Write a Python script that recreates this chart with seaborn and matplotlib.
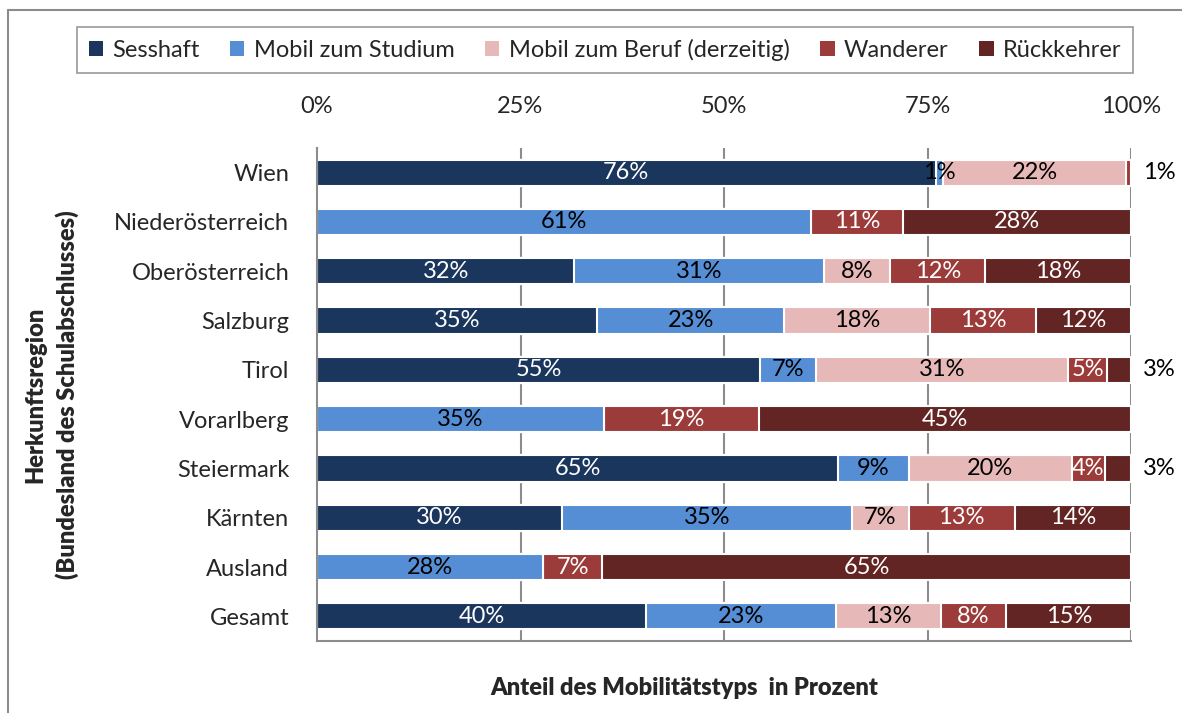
import numpy as np
import pandas as pd
import matplotlib.pyplot as plt
import seaborn as sns
from matplotlib.lines import Line2D
from matplotlib.patches import Patch

# Data (shares in percent)
regions = ["Wien", "Niederösterreich", "Oberösterreich", "Salzburg", "Tirol",
           "Vorarlberg", "Steiermark", "Kärnten", "Ausland", "Gesamt"]
series = ["Sesshaft", "Mobil zum Studium", "Mobil zum Beruf (derzeitig)",
          "Wanderer", "Rückkehrer"]

sesshaft = [76.0, 0, 31.6, 34.4, 54.4, 0, 64.0, 30.1, 0, 40.4]
studium = [0.9, 60.7, 30.7, 23.0, 6.9, 35.3, 8.7, 35.6, 27.8, 23.3]
beruf = [22.5, 0, 8.1, 17.9, 31.0, 0, 20.0, 7.0, 0, 12.9]
wanderer = [0.6, 11.3, 11.7, 13.0, 4.8, 19.0, 4.1, 13.0, 7.2, 8.1]
rueckkehrer = [0, 28.0, 17.9, 11.7, 2.9, 45.7, 3.2, 14.3, 65.0, 15.3]

# Labels as printed on the bars
sesshaft_lbl = ["76%", "", "32%", "35%", "55%", "", "65%", "30%", "", "40%"]
studium_lbl = ["1%", "61%", "31%", "23%", "7%", "35%", "9%", "35%", "28%", "23%"]
beruf_lbl = ["22%", "", "8%", "18%", "31%", "", "20%", "7%", "", "13%"]
wanderer_lbl = ["1%", "11%", "12%", "13%", "5%", "19%", "4%", "13%", "7%", "8%"]
rueck_lbl = ["", "28%", "18%", "12%", "3%", "45%", "3%", "14%", "65%", "15%"]

colors = ["#1B365D", "#558ED5", "#E6B9B8", "#9B3B3A", "#632523"]
text_colors = ["white", "black", "black", "white", "white"]

values = [sesshaft, studium, beruf, wanderer, rueckkehrer]
labels = [sesshaft_lbl, studium_lbl, beruf_lbl, wanderer_lbl, rueck_lbl]

FS = 17

sns.set_style("white")
plt.rcParams['font.family'] = ['Lato', 'DejaVu Sans']

fig = plt.figure(figsize=(11.82, 7.13), dpi=100)
ax = fig.add_axes([317 / 1182, 1 - 641 / 713, 814 / 1182, 493 / 713])

df = pd.DataFrame(dict(zip(series, values)), index=regions)
cum = df.cumsum(axis=1)

# Stacked bars: draw cumulative totals from the last series backwards
for i in range(len(series) - 1, -1, -1):
    sns.barplot(x=cum[series[i]].values, y=regions, orient="h", color=colors[i],
                width=0.53, edgecolor="white", linewidth=1.5, ax=ax, saturation=1)

# Segment labels
for i, s in enumerate(series):
    for j, r in enumerate(regions):
        lbl = labels[i][j]
        if not lbl:
            continue
        w = df.loc[r, s]
        end = cum.loc[r, s]
        if w < 3.5 and end > 99.5:
            ax.text(101.5, j, lbl, ha="left", va="center", fontsize=FS, color="black")
        else:
            ax.text(end - w / 2, j, lbl, ha="center", va="center", fontsize=FS,
                    color=text_colors[i])

ax.set_xlim(0, 100)
ax.set_ylim(9.5, -0.5)
ax.set_xticks([0, 25, 50, 75, 100])
ax.set_xticklabels(["0%", "25%", "50%", "75%", "100%"], fontsize=FS)
ax.xaxis.tick_top()
ax.tick_params(axis="x", length=0, pad=22)
for xv in [25, 50, 75, 100]:
    ax.axvline(xv, color="#8C8C8C", lw=1.5, zorder=0)

ax.set_yticks(range(len(regions)))
ax.set_yticklabels(regions, fontsize=FS)
ax.set_yticks(np.arange(-0.5, 10.5, 1), minor=True)
ax.tick_params(axis="y", which="major", length=0, pad=20)
ax.tick_params(axis="y", which="minor", length=7, width=1.5, color="#8C8C8C")

for side in ["top", "right"]:
    ax.spines[side].set_visible(False)
for side in ["left", "bottom"]:
    ax.spines[side].set_color("#8C8C8C")
    ax.spines[side].set_linewidth(1.5)

ax.set_ylabel("Herkunftsregion\n(Bundesland des Schulabschlusses)", fontsize=FS,
              fontweight="heavy", linespacing=1.45)
ax.yaxis.set_label_coords(-0.292, 0.5)
ax.set_xlabel("")

fig.text(684 / 1182, 1 - 688 / 713, "Anteil des Mobilitätstyps  in Prozent",
         ha="center", va="center", fontsize=FS, fontweight="heavy")

handles = [Patch(facecolor=c, edgecolor="none") for c in colors]
leg = fig.legend(handles, series, loc="center", bbox_to_anchor=(605 / 1182, 1 - 50 / 713),
                 ncol=5, fontsize=FS, frameon=True, fancybox=False,
                 handlelength=0.6, handleheight=0.6, handletextpad=0.4,
                 columnspacing=1.3, borderpad=0.5)
leg.get_frame().set_edgecolor("#7F7F7F")
leg.get_frame().set_linewidth(1.2)

# Outer chart frame (top and left visible)
fig.add_artist(Line2D([8 / 1182, 8 / 1182], [0, 1 - 10 / 713], transform=fig.transFigure,
                      color="#8C8C8C", lw=1.5))
fig.add_artist(Line2D([8 / 1182, 1], [1 - 10 / 713, 1 - 10 / 713], transform=fig.transFigure,
                      color="#8C8C8C", lw=1.5))

fig.savefig("out.png", dpi=100)
